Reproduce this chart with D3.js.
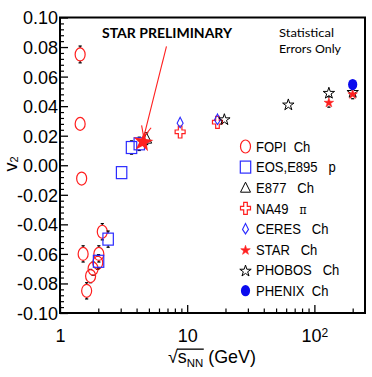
<!DOCTYPE html>
<html><head><meta charset="utf-8">
<script src="https://cdn.jsdelivr.net/npm/d3@7"></script>
<style>
html,body{margin:0;padding:0;background:#fff;}
svg{display:block;font-family:"Liberation Sans",Arial,Helvetica,sans-serif;}
</style></head><body>
<svg id="c" width="372" height="377"></svg>
<script>
// ---- data (sqrt(s_NN) in GeV, v2) ----
const fopiX = [1.44, 1.44, 1.48, 1.52, 1.62, 1.74, 1.82, 1.98, 2.02, 2.15];
const fopiV = [0.075, 0.028, -0.009, -0.060, -0.085, -0.075, -0.070, -0.066, -0.060, -0.045];
const fopiE = [0.0057, 0, 0, 0.0055, 0.0055, 0.0045, 0.0045, 0.0045, 0.0055, 0.0055];

const eosX = [2.01, 2.39, 3.05, 3.65, 4.2];
const eosV = [-0.065, -0.050, -0.005, 0.012, 0.0145];
const eosE = [0.0045, 0.0055, 0, 0.0045, 0.0045];

const e877X = [4.8];
const e877V = [0.018];
const e877E = [0.004];

const na49X = [8.8, 17.3];
const na49V = [0.0225, 0.029];
const na49E = [0, 0];

const ceresX = [8.8, 17.3];
const ceresV = [0.0288, 0.031];
const ceresE = [0, 0];

const starX = [130, 200];
const starV = [0.0428, 0.0485];
const starE = [0.0035, 0.0035];

const starPrelimX = [4.5];
const starPrelimV = [0.0168];

const phobosX = [19.6, 62.4, 130, 200];
const phobosV = [0.0315, 0.0415, 0.0494, 0.050];
const phobosE = [0.0035, 0.0035, 0.0035, 0.0035];

const phenixX = [200];
const phenixV = [0.0546];
const phenixE = [0.002];

const yTicks = [-0.10, -0.08, -0.06, -0.04, -0.02, 0.00, 0.02, 0.04, 0.06, 0.08, 0.10];
const xTicks = [1, 10, 100];
const xTickLabels = ["1", "10", "10|2"];
const legendLabels = ["FOPI  Ch", "EOS,E895   p", "E877   Ch", "NA49   |π", "CERES   Ch", "STAR   Ch", "PHOBOS   Ch", "PHENIX  Ch"];
const arrowFrom = [6.87, 0.0805];
const arrowTo = [4.55, 0.0190];

// ---- layout ----
const RED = "#ff1f1f", BLUE = "#2b2bff", BLACK = "#000";
const svg = d3.select("#c");
const L = 60, R = 365, T = 17.5, B = 313;
const x = d3.scaleLog().domain([1, 250]).range([L, R]);
const y = d3.scaleLinear().domain([-0.1, 0.1]).range([B, T]);

// ---- marker shapes ----
const starPath = r => d3.symbol(d3.symbolStar, r * r / 0.8908130915292852)();
const shapes = {
  ellipse: {hh: 6.5, draw: (g, c) => g.append("ellipse").attr("rx", 5).attr("ry", 6.5).attr("fill", "none").attr("stroke", c).attr("stroke-width", 1.2)},
  square: {hh: 6, draw: (g, c) => g.append("rect").attr("x", -5.2).attr("y", -6).attr("width", 10.4).attr("height", 12).attr("fill", "none").attr("stroke", c).attr("stroke-width", 1.2)},
  triangle: {hh: 5, draw: (g, c) => g.append("path").attr("d", "M0,-5.5L5,4.5L-5,4.5Z").attr("fill", "none").attr("stroke", c).attr("stroke-width", 1)},
  cross: {hh: 6, draw: (g, c) => g.append("path").attr("d", "M-1.8,-6H1.8V-2H5V1.6H1.8V6H-1.8V1.6H-5V-2H-1.8Z").attr("fill", "none").attr("stroke", c).attr("stroke-width", 1.2)},
  diamond: {hh: 5, draw: (g, c) => g.append("path").attr("d", "M0,-5.5L3,0.5L0,5L-3,0.5Z").attr("fill", "none").attr("stroke", c).attr("stroke-width", 1.1)},
  star: {hh: 4.5, draw: (g, c) => g.append("path").attr("d", starPath(5)).attr("transform", "translate(0,0.8)").attr("fill", c).attr("stroke", c).attr("stroke-width", 0.6)},
  bigstar: {hh: 9, draw: (g, c) => g.append("path").attr("d", starPath(10.5)).attr("transform", "translate(0,1.5) rotate(8)").attr("fill", c)},
  openstar: {hh: 5.5, draw: (g, c) => g.append("path").attr("d", starPath(6)).attr("transform", "translate(0,1)").attr("fill", "none").attr("stroke", c).attr("stroke-width", 1)},
  dot: {hh: 5.5, draw: (g, c) => g.append("ellipse").attr("rx", 4.6).attr("ry", 5.6).attr("fill", c)}
};

const series = [
  {x: fopiX, v: fopiV, e: fopiE, shape: "ellipse", color: RED},
  {x: eosX, v: eosV, e: eosE, shape: "square", color: BLUE},
  {x: e877X, v: e877V, e: e877E, shape: "triangle", color: BLACK},
  {x: na49X, v: na49V, e: na49E, shape: "cross", color: RED},
  {x: ceresX, v: ceresV, e: ceresE, shape: "diamond", color: BLUE},
  {x: phobosX, v: phobosV, e: phobosE, shape: "openstar", color: BLACK},
  {x: starX, v: starV, e: starE, shape: "star", color: RED},
  {x: phenixX, v: phenixV, e: phenixE, shape: "dot", color: "#0a0aee"},
  {x: starPrelimX, v: starPrelimV, e: [0], shape: "bigstar", color: RED}
];
const legendShapes = ["ellipse", "square", "triangle", "cross", "diamond", "star", "openstar", "dot"];
const legendColors = [RED, BLUE, BLACK, RED, BLUE, RED, BLACK, "#0a0aee"];

// ---- axes ----
const yMinor = d3.range(-25, 26).filter(i => i % 5 !== 0).map(i => i * 0.004);
const xMinor = [2,3,4,5,6,7,8,9,20,30,40,50,60,70,80,90,200];

const gy = svg.append("g").attr("transform", `translate(${L},0)`)
  .call(d3.axisLeft(y).tickValues(yTicks).tickSize(-8).tickPadding(2)
    .tickFormat(d => d3.format(".2f")(d).replace("\u2212", "-")));
gy.select(".domain").remove();
gy.selectAll("line").attr("stroke", "#000").attr("stroke-width", 1.3);
gy.selectAll("text").attr("font-size", 18).attr("fill", "#000").attr("font-family", "Liberation Sans, Arial, sans-serif").attr("dy", "0.36em");
const gy2 = svg.append("g").attr("transform", `translate(${L},0)`)
  .call(d3.axisLeft(y).tickValues(yMinor).tickSize(-4).tickFormat(""));
gy2.select(".domain").remove();
gy2.selectAll("line").attr("stroke", "#000").attr("stroke-width", 1.2);

const gx = svg.append("g").attr("transform", `translate(0,${B})`)
  .call(d3.axisBottom(x).tickValues(xTicks).tickSize(-8).tickPadding(16).tickFormat(""));
gx.select(".domain").remove();
gx.selectAll("line").attr("stroke", "#000").attr("stroke-width", 1.3);
gx.selectAll("text").attr("font-size", 18).attr("fill", "#000").attr("font-family", "Liberation Sans, Arial, sans-serif")
  .each(function(d, i) {
    const parts = xTickLabels[i].split("|");
    const t = d3.select(this);
    t.append("tspan").text(parts[0]);
    if (parts[1]) t.append("tspan").attr("dy", "-0.42em").attr("font-size", 12).text(parts[1]);
  });
const gx2 = svg.append("g").attr("transform", `translate(0,${B})`)
  .call(d3.axisBottom(x).tickValues(xMinor).tickSize(-4.5).tickFormat(""));
gx2.select(".domain").remove();
gx2.selectAll("line").attr("stroke", "#000").attr("stroke-width", 1.2);

// frame
svg.append("rect").attr("x", L).attr("y", T).attr("width", R - L).attr("height", B - T)
  .attr("fill", "none").attr("stroke", "#000").attr("stroke-width", 2);

// ---- data points ----
const plot = svg.append("g");
series.forEach(s => {
  const sh = shapes[s.shape];
  s.x.forEach((xv, i) => {
    const cx = x(xv), cy = y(s.v[i]), e = s.e[i] || 0;
    if (e > 0) {
      const top = y(s.v[i] + e), bot = y(s.v[i] - e);
      const eg = plot.append("g").attr("stroke", "#000").attr("stroke-width", 1.2);
      if (top < cy - sh.hh) {
        eg.append("line").attr("x1", cx).attr("x2", cx).attr("y1", top).attr("y2", cy - sh.hh);
        eg.append("line").attr("x1", cx - 1.6).attr("x2", cx + 1.6).attr("y1", top).attr("y2", top);
      }
      if (bot > cy + sh.hh) {
        eg.append("line").attr("x1", cx).attr("x2", cx).attr("y1", cy + sh.hh).attr("y2", bot);
        eg.append("line").attr("x1", cx - 1.6).attr("x2", cx + 1.6).attr("y1", bot).attr("y2", bot);
      }
    }
    const g = plot.append("g").attr("transform", `translate(${cx},${cy})`);
    sh.draw(g, s.color);
  });
});

// ---- annotation arrow ----
const ax0 = x(arrowFrom[0]), ay0 = y(arrowFrom[1]), ax1 = x(arrowTo[0]), ay1 = y(arrowTo[1]);
svg.append("line").attr("x1", ax0).attr("y1", ay0).attr("x2", ax1).attr("y2", ay1).attr("stroke", RED).attr("stroke-width", 1.1);
const ang = Math.atan2(ay1 - ay0, ax1 - ax0), hl = 12, hw = 0.42;
svg.append("path").attr("d", `M${ax1 - hl * Math.cos(ang - hw)},${ay1 - hl * Math.sin(ang - hw)}L${ax1},${ay1}L${ax1 - hl * Math.cos(ang + hw)},${ay1 - hl * Math.sin(ang + hw)}`)
  .attr("fill", "none").attr("stroke", RED).attr("stroke-width", 1.1);

svg.append("text").attr("x", 102).attr("y", 37.8).attr("font-family", "Lato, 'Open Sans', sans-serif").attr("font-weight", 700)
  .attr("font-size", 13.5).attr("textLength", 130).attr("lengthAdjust", "spacingAndGlyphs").text("STAR PRELIMINARY");
svg.append("text").attr("x", 279).attr("y", 36.8).attr("font-family", "Lato, 'Open Sans', sans-serif")
  .attr("font-size", 12).attr("textLength", 55).attr("lengthAdjust", "spacingAndGlyphs").text("Statistical");
svg.append("text").attr("x", 279).attr("y", 52.5).attr("font-family", "Lato, 'Open Sans', sans-serif")
  .attr("font-size", 12).attr("textLength", 62).attr("lengthAdjust", "spacingAndGlyphs").text("Errors Only");

// ---- legend ----
const leg = svg.append("g");
legendLabels.forEach((lab, i) => {
  const cy = 146.5 + i * 20.6;
  const g = leg.append("g").attr("transform", `translate(245.5,${cy})`);
  shapes[legendShapes[i]].draw(g, legendColors[i]);
  const parts = lab.split("|");
  const t = leg.append("text").attr("transform", `translate(256,${cy}) scale(0.9,1)`).attr("dy", "0.36em").attr("font-size", 14.5)
    .style("white-space", "pre");
  t.append("tspan").text(parts[0]);
  if (parts[1]) t.append("tspan").attr("font-family", "DejaVu Serif, serif").attr("font-size", 12).text(parts[1]);
});

// ---- axis titles ----
const xtg = svg.append("g");
const xt = xtg.append("text").attr("x", 0).attr("y", 0).attr("font-size", 18).style("white-space", "pre");
xt.append("tspan").text("\u221A");
xt.append("tspan").text("s");
xt.append("tspan").attr("font-size", 11.5).attr("dy", 4).text("NN");
xt.append("tspan").attr("dy", -4).text(" (GeV)");
const node = xt.node();
const bb = node.getBBox();
const sx = Math.min(1, 88 / bb.width);
xtg.attr("transform", `translate(${168 - bb.x * sx},363) scale(${sx},1)`);
const e0 = node.getExtentOfChar(0), e3 = node.getExtentOfChar(3);
xtg.append("line").attr("x1", e0.x + e0.width - 0.8).attr("x2", e3.x + e3.width + 0.5)
  .attr("y1", e0.y + 2.2).attr("y2", e0.y + 2.2).attr("stroke", "#000").attr("stroke-width", 1.3);

const yt = svg.append("text").attr("transform", "translate(17,164) rotate(-90)").attr("text-anchor", "middle").attr("font-size", 18);
yt.append("tspan").text("v");
yt.append("tspan").attr("font-size", 11).attr("dy", 1).text("2");
</script>
</body></html>
